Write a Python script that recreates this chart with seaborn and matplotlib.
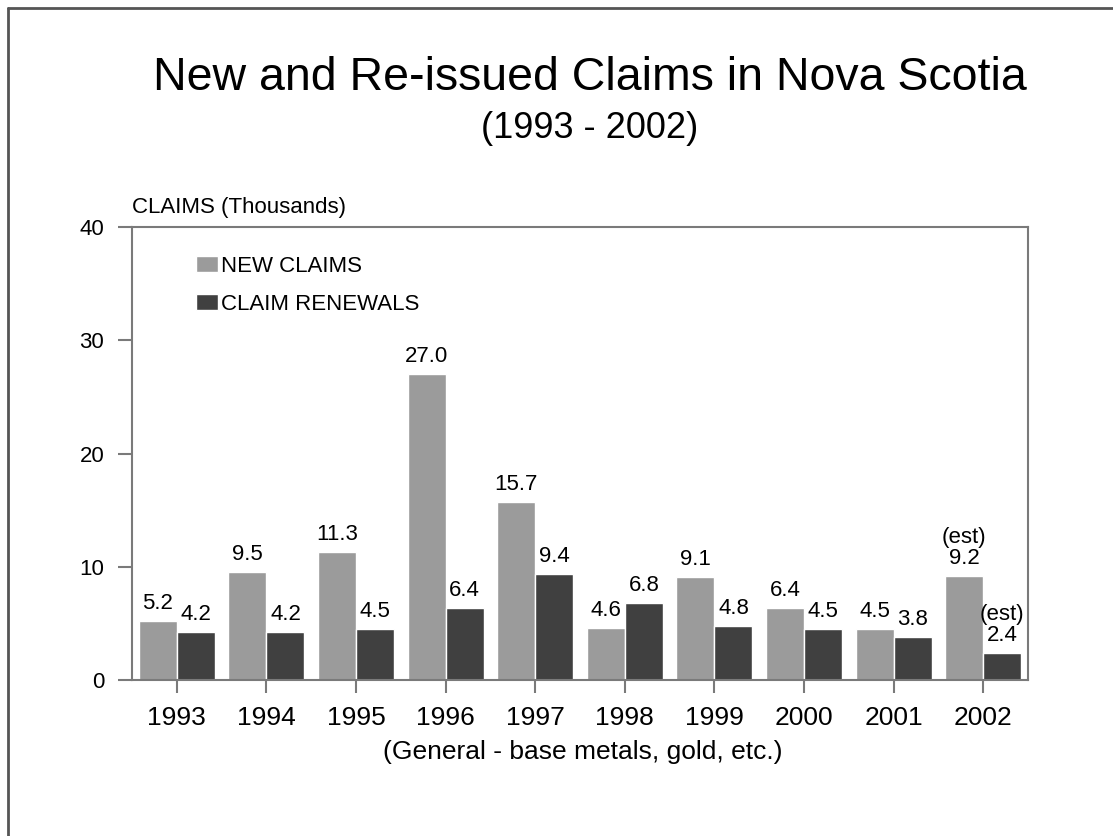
import matplotlib
matplotlib.use("Agg")
import matplotlib.pyplot as plt
from matplotlib.lines import Line2D
import seaborn as sns
import pandas as pd

years = ["1993", "1994", "1995", "1996", "1997", "1998", "1999", "2000", "2001", "2002"]
new_claims = [5.2, 9.5, 11.3, 27.0, 15.7, 4.6, 9.1, 6.4, 4.5, 9.2]
renewals = [4.2, 4.2, 4.5, 6.4, 9.4, 6.8, 4.8, 4.5, 3.8, 2.4]
series_names = ["NEW CLAIMS", "CLAIM RENEWALS"]
yticks = [0, 10, 20, 30, 40]

df = pd.DataFrame({
    "year": years * 2,
    "value": new_claims + renewals,
    "series": [series_names[0]] * len(years) + [series_names[1]] * len(years),
})

sns.set_theme(style="white")
plt.rcParams["font.family"] = ["Liberation Sans", "DejaVu Sans"]
plt.rcParams["text.color"] = "black"
plt.rcParams["axes.labelcolor"] = "black"
plt.rcParams["xtick.labelcolor"] = "black"
plt.rcParams["ytick.labelcolor"] = "black"

fig = plt.figure(figsize=(11.13, 8.36), dpi=100)
ax = fig.add_axes([132 / 1113, 1 - 680 / 836, (1028 - 132) / 1113, (680 - 227) / 836])

palette = {series_names[0]: "#9b9b9b", series_names[1]: "#404040"}
sns.barplot(data=df, x="year", y="value", hue="series", order=years,
            hue_order=series_names, palette=palette, width=0.85,
            saturation=1, ax=ax, legend=True)

ax.set_ylim(0, 40)
ax.set_xlim(-0.5, len(years) - 0.5)
ax.set_yticks(yticks)
ax.set_xlabel("")
ax.set_ylabel("")

for s in ax.spines.values():
    s.set_color("#7a7a7a")
    s.set_linewidth(1.5)
    s.set_visible(True)

ax.tick_params(axis="y", direction="out", length=10, width=1.5, color="#7a7a7a",
               pad=10, labelsize=16, labelcolor="black", left=True)
ax.tick_params(axis="x", direction="out", length=9, width=1.5, color="#7a7a7a",
               pad=10, labelsize=19, labelcolor="black", bottom=True)

# value labels
for cont, vals in zip(ax.containers, [new_claims, renewals]):
    labels = []
    for i, v in enumerate(vals):
        txt = f"{v:.1f}"
        if years[i] == "2002":
            txt = "(est)\n" + txt
        labels.append(txt)
    ax.bar_label(cont, labels=labels, padding=5, fontsize=16, color="black",
                 linespacing=1.0)

leg = ax.legend(loc="upper left", bbox_to_anchor=(0.071, 0.936), frameon=False,
                fontsize=16, handlelength=1.0, handleheight=0.75, handletextpad=0.15,
                labelspacing=0.75, borderpad=0, borderaxespad=0)
for t in leg.get_texts():
    t.set_color("black")

ax.text(0.0, 1.02, "CLAIMS (Thousands)", transform=ax.transAxes, fontsize=16,
        ha="left", va="bottom", color="black")

fig.text(590 / 1113, 1 - 78 / 836, "New and Re-issued Claims in Nova Scotia",
         fontsize=33.5, ha="center", va="center", color="black")
fig.text(590 / 1113, 1 - 128 / 836, "(1993 - 2002)", fontsize=26,
         ha="center", va="center", color="black")
fig.text(583 / 1113, 1 - 752 / 836, "(General - base metals, gold, etc.)",
         fontsize=19, ha="center", va="center", color="black")

# outer frame
fig.add_artist(Line2D([8 / 1113, 1.0], [1 - 8 / 836, 1 - 8 / 836],
                      transform=fig.transFigure, color="#555555", linewidth=2))
fig.add_artist(Line2D([8 / 1113, 8 / 1113], [0.0, 1 - 8 / 836],
                      transform=fig.transFigure, color="#555555", linewidth=2))

fig.savefig("out.png", dpi=100)
